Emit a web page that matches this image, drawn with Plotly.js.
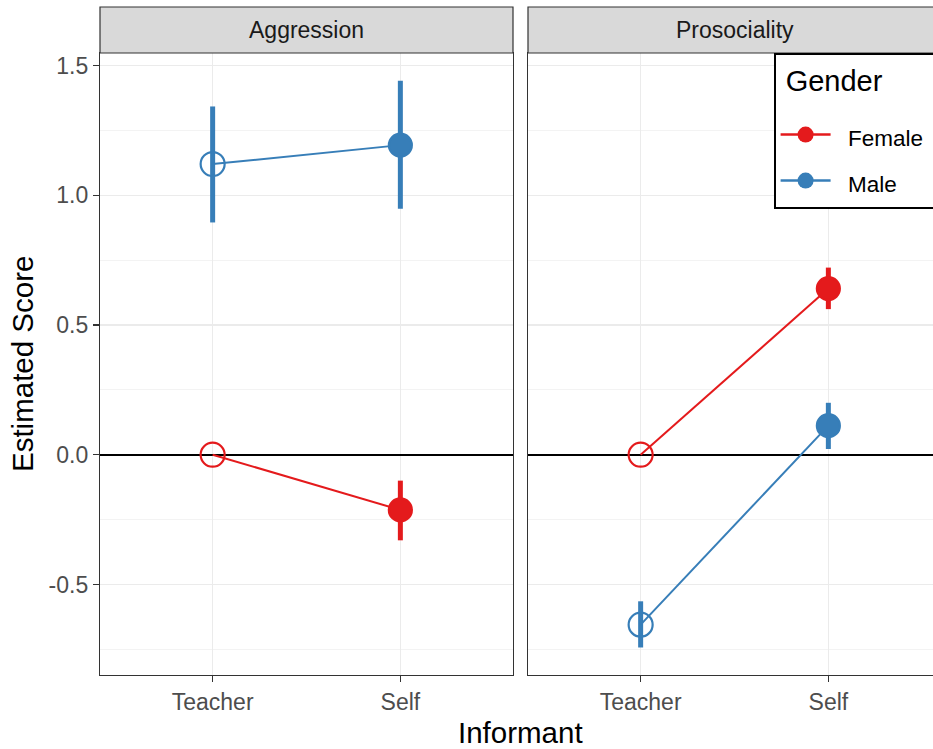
<!DOCTYPE html>
<html>
<head>
<meta charset="utf-8">
<script src="https://cdn.plot.ly/plotly-3.0.1.min.js"></script>
<style>
html, body { margin: 0; padding: 0; overflow: hidden; background: #fff; }
#chart { width: 941px; height: 749px; }
</style>
</head>
<body>
<div id="chart"></div>
<script>
// ---- data ----
const informants = ["Teacher", "Self"];
const facets = ["Aggression", "Prosociality"];
const genders = ["Female", "Male"];

const aggFemale = [0.000, -0.213];
const aggFemaleLo = [0.000, -0.330];
const aggFemaleHi = [0.000, -0.100];
const aggMale = [1.120, 1.193];
const aggMaleLo = [0.895, 0.948];
const aggMaleHi = [1.342, 1.441];

const proFemale = [0.000, 0.640];
const proFemaleLo = [0.000, 0.561];
const proFemaleHi = [0.000, 0.721];
const proMale = [-0.655, 0.112];
const proMaleLo = [-0.743, 0.022];
const proMaleHi = [-0.565, 0.200];

const yTickVals = [-0.5, 0, 0.5, 1.0, 1.5];
const yTickText = ["-0.5", "0.0", "0.5", "1.0", "1.5"];

// ---- styling ----
const colors = { Female: "#E41A1C", Male: "#377EB8" };
const FONT = "Liberation Sans, Arial, sans-serif";

function series(gender, facetIdx, vals, lo, hi) {
  const ax = facetIdx === 0 ? "" : "2";
  const c = colors[gender];
  return {
    type: "scatter",
    mode: "lines+markers",
    x: informants,
    y: vals,
    xaxis: "x" + ax,
    yaxis: "y" + ax,
    showlegend: false,
    hoverinfo: "skip",
    line: { color: c, width: 2 },
    marker: {
      color: c,
      opacity: 1,
      symbol: ["circle-open", "circle"],
      size: [24, 23],
      line: { color: c, width: 2.2 }
    },
    error_y: {
      type: "data",
      symmetric: false,
      array: hi.map((h, i) => h - vals[i]),
      arrayminus: lo.map((l, i) => vals[i] - l),
      color: c,
      thickness: 5,
      width: 0
    }
  };
}

const traces = [
  series("Female", 0, aggFemale, aggFemaleLo, aggFemaleHi),
  series("Male", 0, aggMale, aggMaleLo, aggMaleHi),
  series("Female", 1, proFemale, proFemaleLo, proFemaleHi),
  series("Male", 1, proMale, proMaleLo, proMaleHi)
];

// legend entries
genders.forEach(g => {
  traces.push({
    type: "scatter",
    mode: "lines+markers",
    x: [null], y: [null],
    name: "<span style='font-size:22.5px'>\u00A0\u00A0" + g + "\u00A0</span>",
    legendgroup: g,
    showlegend: true,
    line: { color: colors[g], width: 2.5 },
    marker: { color: colors[g], size: 16, symbol: "circle", opacity: 1 }
  });
});

const W = 941, H = 749, L = 100, R = 0, T = 53, B = 74;
const PW = W - L - R, PH = H - T - B;
const panelW = 413, gap = 15;

const xCommon = {
  type: "category",
  categoryorder: "array",
  categoryarray: informants,
  range: [-0.6, 1.6],
  showgrid: true,
  gridcolor: "#EBEBEB",
  gridwidth: 1.3,
  zeroline: false,
  showline: true,
  mirror: true,
  linecolor: "#333333",
  linewidth: 1.2,
  ticks: "outside",
  ticklen: 6,
  tickwidth: 1.3,
  tickcolor: "#333333",
  tickfont: { family: FONT, size: 23, color: "#4D4D4D" },
  fixedrange: true
};

const yCommon = {
  range: [-0.849, 1.548],
  tickmode: "array",
  tickvals: yTickVals,
  ticktext: yTickText,
  showgrid: true,
  gridcolor: "#EBEBEB",
  gridwidth: 1.3,
  minor: { tickmode: "linear", tick0: 0.25, dtick: 0.5, showgrid: true, gridcolor: "#EBEBEB", gridwidth: 0.6, ticklen: 0 },
  zeroline: true,
  zerolinecolor: "#000000",
  zerolinewidth: 2,
  showline: true,
  mirror: true,
  linecolor: "#333333",
  linewidth: 1.2,
  fixedrange: true
};

const stripH = 46 / PH;

const layout = {
  width: W,
  height: H,
  margin: { l: L, r: R, t: T, b: B, pad: 0, autoexpand: false },
  paper_bgcolor: "#FFFFFF",
  plot_bgcolor: "#FFFFFF",
  font: { family: FONT, color: "#000000" },
  xaxis: Object.assign({}, xCommon, { domain: [0, panelW / PW], anchor: "y" }),
  xaxis2: Object.assign({}, xCommon, { domain: [(panelW + gap) / PW, 1], anchor: "y2" }),
  yaxis: Object.assign({}, yCommon, {
    domain: [0, 1], anchor: "x",
    ticks: "outside", ticklen: 6, tickwidth: 1.3, tickcolor: "#333333",
    tickfont: { family: FONT, size: 23, color: "#4D4D4D" }
  }),
  yaxis2: Object.assign({}, yCommon, {
    domain: [0, 1], anchor: "x2", matches: "y", showticklabels: false, ticks: ""
  }),
  showlegend: true,
  legend: {
    x: (774 - L) / PW,
    y: 1,
    xanchor: "left",
    yanchor: "top",
    bgcolor: "#FFFFFF",
    bordercolor: "#000000",
    borderwidth: 1.6,
    font: { family: FONT, size: 30, color: "#000000" },
    title: {
      text: "<sup><span style='font-size:29px'>\u00A0Gender</span></sup>",
      font: { family: FONT, size: 41.5, color: "#000000" }
    },
    tracegroupgap: 4,
    itemwidth: 50
  },
  shapes: [0, 1].map(i => ({
    type: "rect",
    xref: (i === 0 ? "x" : "x2") + " domain",
    yref: "paper",
    x0: 0, x1: 1,
    y0: 1, y1: 1 + stripH,
    fillcolor: "#D9D9D9",
    line: { color: "#333333", width: 1.2 },
    layer: "above"
  })),
  annotations: facets.map((f, i) => ({
    text: f,
    xref: (i === 0 ? "x" : "x2") + " domain",
    yref: "paper",
    x: 0.5,
    y: 1 + stripH / 2,
    xanchor: "center",
    yanchor: "middle",
    showarrow: false,
    font: { family: FONT, size: 23, color: "#1A1A1A" }
  })).concat([
    {
      text: "Informant",
      xref: "paper", yref: "paper",
      x: 0.5, y: (H - B - 732) / PH,
      xanchor: "center", yanchor: "middle",
      showarrow: false,
      font: { family: FONT, size: 29.5, color: "#000000" }
    },
    {
      text: "Estimated Score",
      xref: "paper", yref: "paper",
      x: (22 - L) / PW, y: 0.5,
      xanchor: "center", yanchor: "middle",
      textangle: -90,
      showarrow: false,
      font: { family: FONT, size: 29.5, color: "#000000" }
    }
  ])
};

Plotly.newPlot("chart", traces, layout, { displayModeBar: false, staticPlot: true });
</script>
</body>
</html>
